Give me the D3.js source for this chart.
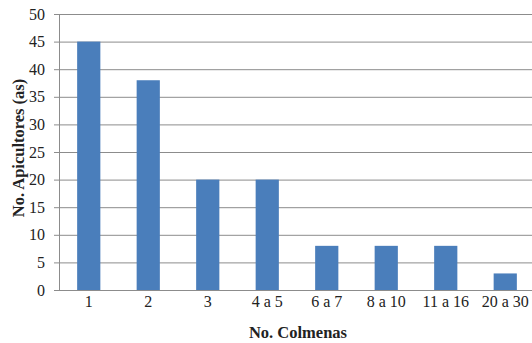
<!DOCTYPE html>
<html>
<head>
<meta charset="utf-8">
<script src="https://cdn.jsdelivr.net/npm/d3@7"></script>
<style>
  body { margin: 0; background: #fff; }
  text { font-family: "Liberation Serif", "Times New Roman", serif; }
</style>
</head>
<body>
<svg width="532" height="343"></svg>
<script>
var categories = ["1", "2", "3", "4 a 5", "6 a 7", "8 a 10", "11 a 16", "20 a 30"];
var apicultores = [45, 38, 20, 20, 8, 8, 8, 3];
var yTicks = [0, 5, 10, 15, 20, 25, 30, 35, 40, 45, 50];

var svg = d3.select("svg");
var plotLeft = 59, plotRight = 535, plotTop = 14, plotBottom = 290;

var x = d3.scaleBand()
    .domain(categories)
    .range([plotLeft, plotRight])
    .paddingInner(0.61)
    .paddingOuter(0.305);

var y = d3.scaleLinear()
    .domain([0, 50])
    .range([plotBottom, plotTop]);

// gridlines
svg.append("g")
    .selectAll("line")
    .data(yTicks)
    .enter().append("line")
    .attr("x1", plotLeft - 5)
    .attr("x2", 532)
    .attr("y1", function (d) { return y(d) + 0.5; })
    .attr("y2", function (d) { return y(d) + 0.5; })
    .attr("stroke", "#8c8c8c")
    .attr("stroke-width", 1);

// y axis line
svg.append("line")
    .attr("x1", plotLeft + 0.5).attr("x2", plotLeft + 0.5)
    .attr("y1", plotTop).attr("y2", plotBottom)
    .attr("stroke", "#8c8c8c");

// bars
svg.append("g")
    .selectAll("rect")
    .data(apicultores)
    .enter().append("rect")
    .attr("x", function (d, i) { return x(categories[i]); })
    .attr("y", function (d) { return y(d); })
    .attr("width", x.bandwidth())
    .attr("height", function (d) { return y(0) - y(d); })
    .attr("fill", "#4a7ebb");

// y tick labels
svg.append("g")
    .selectAll("text")
    .data(yTicks)
    .enter().append("text")
    .attr("x", 45)
    .attr("y", function (d) { return y(d) + 5.5; })
    .attr("text-anchor", "end")
    .attr("font-size", "16px")
    .attr("fill", "#222")
    .text(function (d) { return d; });

// x tick labels
svg.append("g")
    .selectAll("text")
    .data(categories)
    .enter().append("text")
    .attr("x", function (d) { return x(d) + x.bandwidth() / 2; })
    .attr("y", 307)
    .attr("text-anchor", "middle")
    .attr("font-size", "16px")
    .attr("fill", "#222")
    .text(function (d) { return d; });

// axis titles
svg.append("text")
    .attr("x", 298)
    .attr("y", 338)
    .attr("text-anchor", "middle")
    .attr("font-size", "16.5px")
    .attr("font-weight", "bold")
    .attr("fill", "#222")
    .text("No. Colmenas");

svg.append("text")
    .attr("transform", "translate(24,148) rotate(-90)")
    .attr("text-anchor", "middle")
    .attr("font-size", "16.5px")
    .attr("font-weight", "bold")
    .attr("fill", "#222")
    .text("No. Apicultores (as)");
</script>
</body>
</html>
